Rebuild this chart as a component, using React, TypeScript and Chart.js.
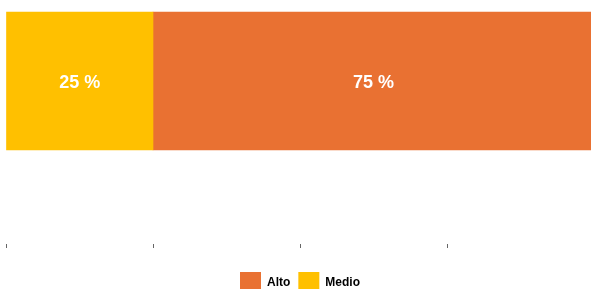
import React, { useEffect, useRef } from "react";
import { Chart, registerables } from "chart.js";

Chart.register(...registerables);

const CATEGORIES = ["Nivel"];
const SERIES_NAMES = ["Medio", "Alto"];
const MEDIO_VALUES = [25];
const ALTO_VALUES = [75];
const SERIES_COLORS = ["#FFC000", "#E97132"];
const X_TICKS = [0, 25, 50, 75, 100];

const valueLabels = {
  id: "valueLabels",
  afterDatasetsDraw(chart: any) {
    const ctx = chart.ctx;
    ctx.save();
    ctx.fillStyle = "#ffffff";
    ctx.font = "bold 18px 'Liberation Sans', Arial, sans-serif";
    ctx.textAlign = "center";
    ctx.textBaseline = "middle";
    chart.data.datasets.forEach((ds: any, di: number) => {
      const meta = chart.getDatasetMeta(di);
      meta.data.forEach((el: any, i: number) => {
        const v = ds.data[i];
        const p = el.getCenterPoint();
        ctx.fillText(`${v} %`, p.x, p.y + 2);
      });
    });
    ctx.restore();
  },
};

export default function App() {
  const ref = useRef<HTMLCanvasElement | null>(null);
  useEffect(() => {
    if (!ref.current) return;
    const chart = new Chart(ref.current, {
      type: "bar",
      data: {
        labels: CATEGORIES,
        datasets: [
          {
            label: SERIES_NAMES[0],
            data: MEDIO_VALUES,
            backgroundColor: SERIES_COLORS[0],
            barThickness: 138,
            clip: false,
          },
          {
            label: SERIES_NAMES[1],
            data: ALTO_VALUES,
            backgroundColor: SERIES_COLORS[1],
            barThickness: 138,
            clip: false,
          },
        ] as any,
      },
      options: {
        indexAxis: "y",
        animation: false,
        responsive: true,
        maintainAspectRatio: false,
        layout: { padding: { left: 6, right: 6, top: 81, bottom: 0 } },
        scales: {
          x: {
            stacked: true,
            min: 0,
            max: 100,
            afterBuildTicks: (scale: any) => {
              scale.ticks = X_TICKS.map((v) => ({ value: v }));
            },
            afterFit: (scale: any) => {
              scale.height = 20;
            },
            ticks: { display: false },
            border: { display: false },
            grid: {
              drawOnChartArea: false,
              drawTicks: true,
              tickLength: 4,
              color: "#666666",
              lineWidth: 1,
            },
          },
          y: {
            stacked: true,
            display: false,
            offset: false,
          },
        },
        plugins: {
          legend: {
            position: "bottom",
            reverse: true,
            labels: {
              boxWidth: 21,
              boxHeight: 21,
              padding: 8,
              color: "#000000",
              font: { family: "'Liberation Sans', Arial, sans-serif", size: 12, weight: "bold" },
            },
          },
          tooltip: { enabled: false },
        },
      } as any,
      plugins: [valueLabels],
    });
    return () => chart.destroy();
  }, []);
  return (
    <div style={{ position: "fixed", left: 0, top: 0, width: 600, height: 303 }}>
      <canvas ref={ref} />
    </div>
  );
}
